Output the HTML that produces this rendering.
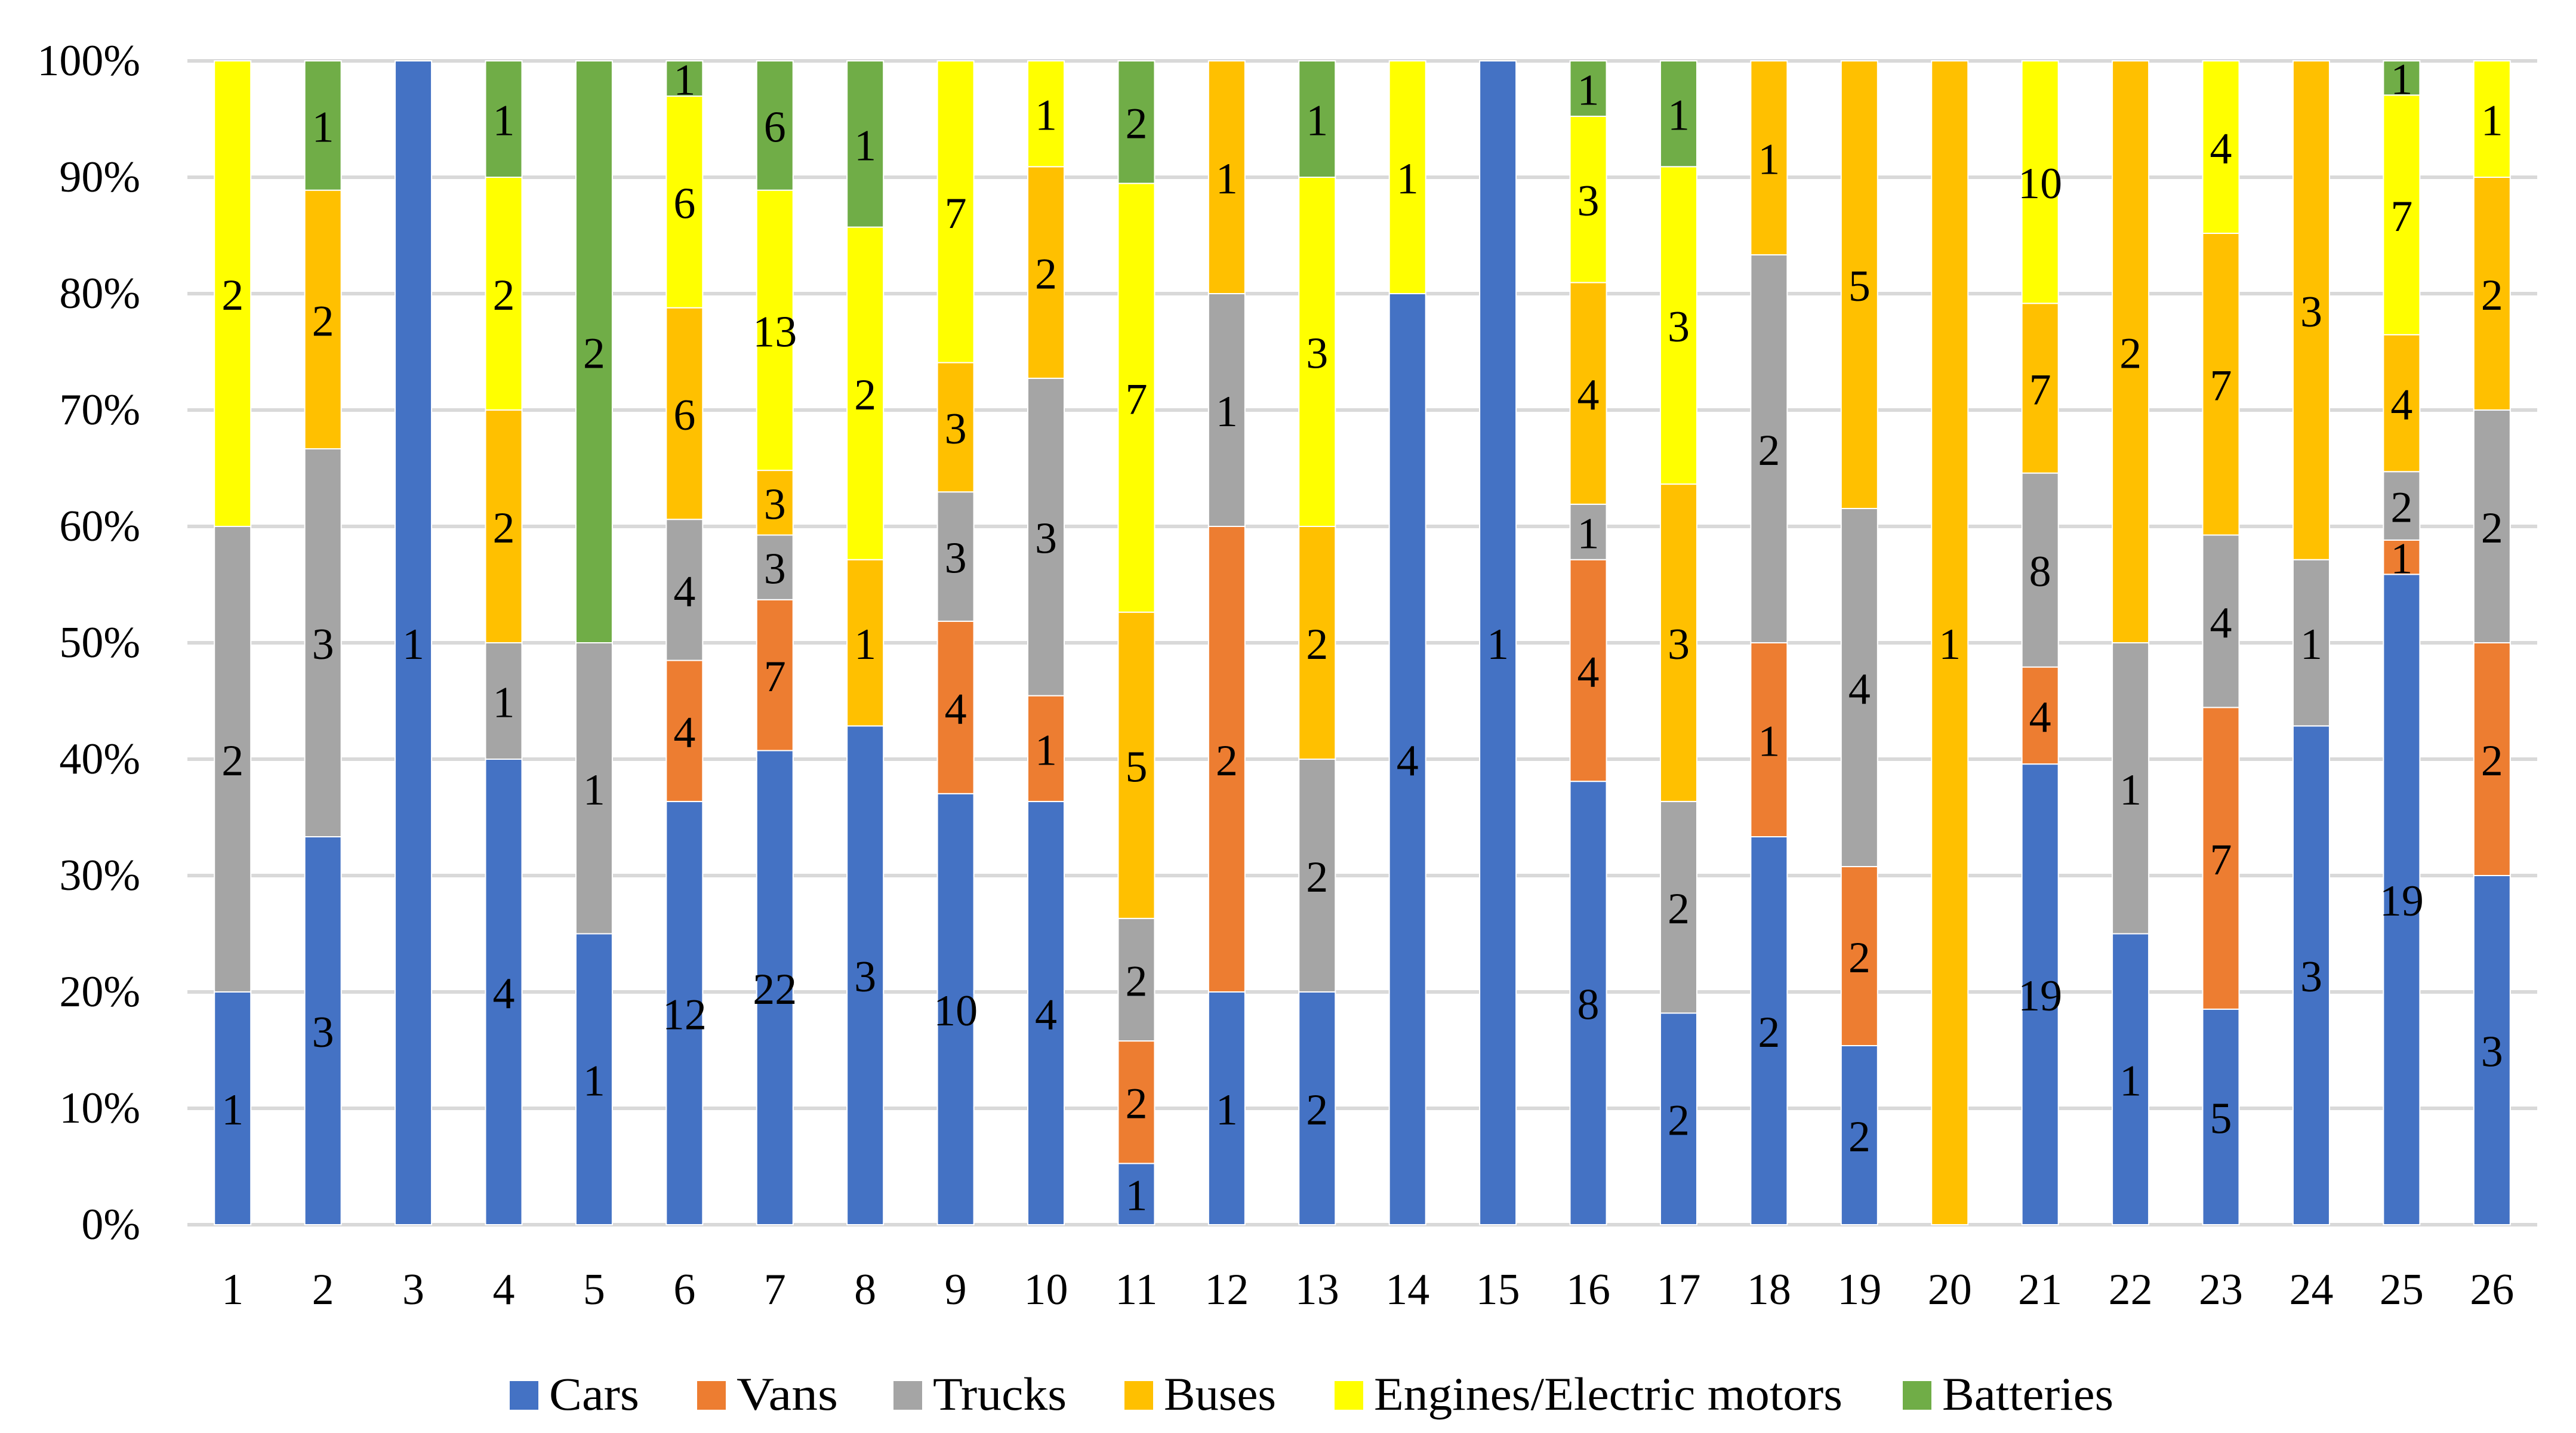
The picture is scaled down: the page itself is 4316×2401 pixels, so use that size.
<!DOCTYPE html>
<html><head><meta charset="utf-8"><style>
html,body{margin:0;padding:0;background:#fff;}
svg{display:block;font-family:"Liberation Serif",serif;}
</style></head><body>
<svg id="chart" width="4316" height="2401" viewBox="0 0 4316 2401" xmlns="http://www.w3.org/2000/svg"></svg>
<script>
const categories=["1","2","3","4","5","6","7","8","9","10","11","12","13","14","15","16","17","18","19","20","21","22","23","24","25","26"];
const seriesNames=["Cars","Vans","Trucks","Buses","Engines/Electric motors","Batteries"];
const seriesColors=["#4472C4","#ED7D31","#A5A5A5","#FFC000","#FFFF00","#70AD47"];
const cars=[1,3,1,4,1,12,22,3,10,4,1,1,2,4,1,8,2,2,2,0,19,1,5,3,19,3];
const vans=[0,0,0,0,0,4,7,0,4,1,2,2,0,0,0,4,0,1,2,0,4,0,7,0,1,2];
const trucks=[2,3,0,1,1,4,3,0,3,3,2,1,2,0,0,1,2,2,4,0,8,1,4,1,2,2];
const buses=[0,2,0,2,0,6,3,1,3,2,5,1,2,0,0,4,3,1,5,1,7,2,7,3,4,2];
const engines=[2,0,0,2,0,6,13,2,7,1,7,0,3,1,0,3,3,0,0,0,10,0,4,0,7,1];
const batteries=[0,1,0,1,2,1,6,1,0,0,2,0,1,0,0,1,1,0,0,0,0,0,0,0,1,0];
const yTicks=[0,10,20,30,40,50,60,70,80,90,100];
const series=[cars,vans,trucks,buses,engines,batteries];

const svg=document.getElementById('chart');
const NS="http://www.w3.org/2000/svg";
const L=314,R=4251,T=102,B=2052;
const step=(R-L)/categories.length, barW=61;
function xc(i){return L+step*(i+0.5);}
function y(p){return B-(B-T)*p/100;}
function el(tag,attrs,parent){const e=document.createElementNS(NS,tag);for(const k in attrs)e.setAttribute(k,attrs[k]);(parent||svg).appendChild(e);return e;}
const FS=74;

const grid=el('g',{});


yTicks.forEach(t=>{
  const ln=el('line',{x1:L,x2:R,y1:y(t),y2:y(t),stroke:'#D9D9D9','stroke-width':6},grid);
  
  
  const tx=el('text',{x:235,y:y(t)+24,'text-anchor':'end','font-size':FS,fill:'#000'});
  tx.textContent=t+'%';
  
  
});

categories.forEach((c,i)=>{
  const total=series.reduce((s,a)=>s+a[i],0);
  let cum=0;
  series.forEach((arr,si)=>{
    const v=arr[i]; if(!v) return;
    const p0=cum/total*100, p1=(cum+v)/total*100; cum+=v;
    const r=el('rect',{x:xc(i)-barW/2,y:y(p1),width:barW,height:y(p0)-y(p1),fill:seriesColors[si],stroke:'#fff','stroke-width':2});
    
    
    const lb=el('text',{x:xc(i),y:(y(p0)+y(p1))/2+27,'text-anchor':'middle','font-size':FS,fill:'#000'});
    lb.textContent=v;
    
    
  });
  const xt=el('text',{x:xc(i),y:2185,'text-anchor':'middle','font-size':FS,fill:'#000'});
  xt.textContent=c;
  
  
});

const legX=[854,1168,1497,1884,2236,3188];
const legW=[151,170,224,188,785,287];
const leg=el('g',{});


seriesNames.forEach((n,i)=>{
  const g=el('g',{},leg);
  
  
  el('rect',{x:legX[i],y:2314,width:48,height:48,fill:seriesColors[i]},g);
  const t=el('text',{x:legX[i]+66,y:2362,'font-size':78,textLength:legW[i],lengthAdjust:'spacingAndGlyphs',fill:'#000'},g);
  t.textContent=n;
});
</script>
</body></html>
